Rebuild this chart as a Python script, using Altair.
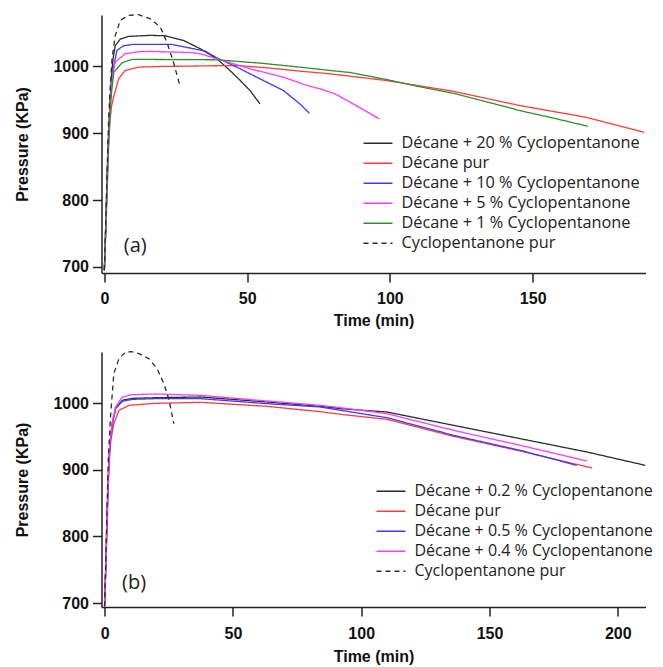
import altair as alt
import pandas as pd

# ---------------- Panel (a) ----------------
A_NAMES = ["Décane + 20 % Cyclopentanone", "Décane pur", "Décane + 10 % Cyclopentanone",
           "Décane + 5 % Cyclopentanone", "Décane + 1 % Cyclopentanone", "Cyclopentanone pur"]
A_COLORS = ["#2b2b2b", "#ff3b3b", "#3b3bff", "#ff3bff", "#2f8f2f", "#2b2b2b"]
A_DASH = [[1, 0], [1, 0], [1, 0], [1, 0], [1, 0], [5, 4]]

a20_t = [0, 0.5, 1, 1.5, 2, 2.5, 3, 3.8, 5.6, 8.5, 16, 21.3, 27.7, 33.6, 39.4, 44, 47.6, 51, 54.5]
a20_p = [695, 760, 840, 900, 950, 985, 1010, 1031, 1041, 1045, 1046.5, 1046, 1039, 1026.5, 1011.5, 994, 979, 964, 944]

a0_t = [0, 0.5, 1, 1.5, 2, 2.5, 3.3, 5, 7.3, 12, 20, 46.4, 57, 68.5, 79, 98.8, 122, 145.5, 168.7, 189]
a0_p = [695, 750, 815, 880, 920, 940, 955, 981.5, 994, 999, 1000, 1001.5, 998, 993, 989, 979, 963, 941.5, 924, 901.5]

a10_t = [0, 0.5, 1, 1.5, 2, 2.5, 3, 4.4, 6.7, 10, 16, 23.6, 31.2, 35.3, 39.4, 46.4, 54.5, 62.7, 68.5, 71.8]
a10_p = [695, 760, 840, 900, 945, 975, 995, 1024, 1031, 1033, 1033, 1033, 1026.5, 1023, 1013, 999, 981.5, 964, 944, 930]

a5_t = [0, 0.5, 1, 1.5, 2, 2.5, 3, 3.8, 7.3, 12, 16, 30, 33.6, 39.4, 51, 62.7, 71, 75.5, 80.8, 88, 96.3]
a5_p = [695, 760, 835, 895, 940, 970, 990, 1006.5, 1019, 1022, 1022.5, 1021, 1019, 1011.5, 996.5, 984, 971.5, 966.5, 959, 942, 921.5]

a1_t = [0, 0.5, 1, 1.5, 2, 2.5, 3.3, 6.2, 9.7, 16, 39.4, 54.5, 68.5, 79, 86, 98.8, 110, 122, 134, 145.5, 158, 169.3]
a1_p = [695, 760, 830, 890, 930, 960, 991.5, 1005.5, 1010.5, 1010.5, 1010, 1005, 999, 994, 991, 980.5, 970, 960, 947, 934, 922, 910.5]

acp_t = [0, 0.5, 1, 1.5, 2, 2.7, 3.8, 5.6, 8.5, 12, 16, 19.6, 21.9, 24.2, 26.6]
acp_p = [695, 770, 850, 920, 965, 1012, 1046, 1069, 1076.5, 1077.5, 1071.5, 1059, 1036.5, 1006.5, 969]

A_T = [a20_t, a0_t, a10_t, a5_t, a1_t, acp_t]
A_P = [a20_p, a0_p, a10_p, a5_p, a1_p, acp_p]

# ---------------- Panel (b) ----------------
B_NAMES = ["Décane + 0.2 % Cyclopentanone", "Décane pur", "Décane + 0.5 % Cyclopentanone",
           "Décane + 0.4 % Cyclopentanone", "Cyclopentanone pur"]
B_COLORS = ["#2b2b2b", "#ff3b3b", "#3b3bff", "#ff3bff", "#2b2b2b"]
B_DASH = [[1, 0], [1, 0], [1, 0], [1, 0], [5, 4]]

b02_t = [0, 0.5, 1, 1.5, 2, 3, 4.3, 6.9, 10.8, 20, 37.4, 63.4, 84, 92, 110, 136, 162, 188, 210.7]
b02_p = [695, 760, 835, 895, 935, 970, 992, 1004, 1007, 1008, 1009, 1001.5, 995, 991.5, 986.5, 966.5, 946.5, 926.5, 906.5]

b0_t = [0, 0.5, 1, 1.5, 2, 2.5, 3.6, 5.6, 9.5, 20, 37.4, 63.4, 84, 92, 110, 136, 162, 190]
b0_p = [695, 750, 815, 880, 920, 945, 969, 989, 996.5, 999.5, 1001, 995, 987, 983, 975.5, 950, 928, 902.5]

b05_t = [0, 0.5, 1, 1.5, 2, 3, 4.3, 6.9, 10.8, 20, 37.4, 63.4, 84, 92, 110, 136, 162, 184]
b05_p = [695, 760, 835, 895, 935, 968, 991.5, 1002.5, 1005.5, 1006.5, 1006.5, 999, 994, 989, 978, 951.5, 929, 906.5]

b04_t = [0, 0.5, 1, 1.5, 2, 3, 4.3, 6.9, 10.8, 20, 37.4, 63.4, 84, 92, 110, 136, 162, 188]
b04_p = [695, 760, 835, 895, 937, 972, 994, 1009, 1012.5, 1013.5, 1011.5, 1003, 996.5, 993, 984, 959, 936.5, 913]

bcp_t = [0, 0.5, 1, 1.5, 2.3, 3.6, 5.6, 8.2, 10.5, 13.4, 17.3, 20.5, 23.1, 25, 27]
bcp_p = [695, 770, 850, 920, 979, 1044, 1066.5, 1076.5, 1077, 1074, 1066.5, 1051.5, 1029, 1006.5, 969]

B_T = [b02_t, b0_t, b05_t, b04_t, bcp_t]
B_P = [b02_p, b0_p, b05_p, b04_p, bcp_p]

A_XTICKS = [0, 50, 100, 150]
B_XTICKS = [0, 50, 100, 150, 200]
YTICKS = [700, 800, 900, 1000]


def frame(names, ts, ps):
    rows = []
    for k, (n, tt, pp) in enumerate(zip(names, ts, ps)):
        for i, (t, p) in enumerate(zip(tt, pp)):
            rows.append({"s": n, "t": t, "p": p, "i": i, "k": k})
    return pd.DataFrame(rows)


def panel(names, ts, ps, colors, dashes, xdom, xticks, ydom, h, tag, tag_t, tag_p,
          lx, ly, lfs, lab_pad, title_pad):
    df = frame(names, ts, ps)
    x = alt.X("t:Q", scale=alt.Scale(domain=xdom, nice=False, zero=False),
              axis=alt.Axis(values=xticks, title="Time (min)", labelPadding=lab_pad,
                            titlePadding=title_pad, format="d"))
    y = alt.Y("p:Q", scale=alt.Scale(domain=ydom, nice=False, zero=False),
              axis=alt.Axis(values=YTICKS, title="Pressure (KPa)", labelPadding=4,
                            titlePadding=22.5, format="d"))
    leg = alt.Legend(title=None, orient="none", legendX=lx, legendY=ly,
                     symbolType="stroke", symbolSize=841, symbolStrokeWidth=1.5,
                     labelFont="Open Sans", labelFontSize=lfs, labelColor="#222222",
                     labelOffset=8, rowPadding=0, clipHeight=19.4, padding=0, labelLimit=400)
    lines = alt.Chart(df).mark_line(strokeWidth=1.3, clip=False).encode(
        x=x, y=y,
        color=alt.Color("s:N", scale=alt.Scale(domain=names, range=colors), legend=leg),
        strokeDash=alt.StrokeDash("s:N", scale=alt.Scale(domain=names, range=dashes), legend=leg),
        order="i:Q",
    )
    tdf = pd.DataFrame({"t": [tag_t], "p": [tag_p], "txt": [tag]})
    txt = alt.Chart(tdf).mark_text(align="left", baseline="middle", font="Open Sans",
                                   fontSize=20, color="#222222").encode(
        x=alt.X("t:Q"), y=alt.Y("p:Q"), text="txt:N")
    return alt.layer(lines, txt).properties(width=544, height=h)


top = panel(A_NAMES, A_T, A_P, A_COLORS, A_DASH, [-1, 189.5], A_XTICKS, [691, 1077], 258,
            "(a)", 6.8, 731.6, 261, 118.5, 16.3, 8.5, 6)
bottom = panel(B_NAMES, B_T, B_P, B_COLORS, B_DASH, [-1.2, 210.8], B_XTICKS, [694, 1076.5], 255,
               "(b)", 6.8, 730.4, 274, 129.5, 16, 9, 7.5)

chart = alt.vconcat(top, bottom, spacing=20).resolve_scale(
    color="independent", strokeDash="independent"
).resolve_legend(color="independent", strokeDash="independent").properties(
    padding={"left": 5.5, "top": 4, "right": 0, "bottom": 0}
).configure_view(stroke=None).configure_axis(
    grid=False, domainColor="#222222", domainWidth=1.5, tickColor="#222222", tickWidth=1.5,
    tickSize=9, labelFont="Liberation Sans", labelFontWeight="bold", labelFontSize=16,
    labelColor="#111111", titleFont="Liberation Sans", titleFontWeight="bold",
    titleFontSize=16, titleColor="#111111"
)

chart.save("out.html", embed_options={"renderer": "svg", "actions": False})
